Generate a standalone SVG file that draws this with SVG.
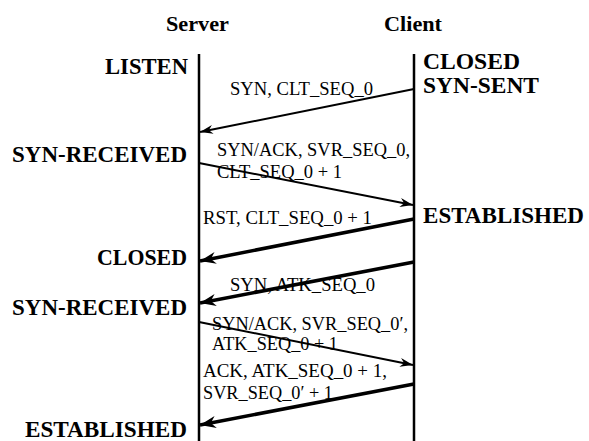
<svg xmlns="http://www.w3.org/2000/svg" width="589" height="441" viewBox="0 0 589 441">
<style>
.bg{fill:#fff}
.life{stroke:#000;stroke-width:2.5;fill:none}
text{font-family:'Liberation Serif','Times New Roman',Tinos,'DejaVu Serif',serif;fill:#000}
.title{font-weight:bold;font-size:22px}
.state{font-weight:bold;font-size:23px}
.lbl{font-size:18px}
.thin{stroke:#000;stroke-width:2;fill:none;marker-end:url(#ahThin)}
.thick{stroke:#000;stroke-width:3.5;fill:none;marker-end:url(#ahThick)}
</style>
<defs>
<marker id="ahThin" markerUnits="userSpaceOnUse" viewBox="-14 -6 16 12" refX="0" refY="0" markerWidth="16" markerHeight="12" orient="auto">
<path d="M0,0 L-13,-4.5 L-9,0 L-13,4.5 Z" fill="#000"/>
</marker>
<marker id="ahThick" markerUnits="userSpaceOnUse" viewBox="-18 -8 20 16" refX="0" refY="0" markerWidth="20" markerHeight="16" orient="auto">
<path d="M0,0 L-16,-6 L-11,0 L-16,6 Z" fill="#000"/>
</marker>
</defs>
<rect class="bg" x="0" y="0" width="589" height="441"/>

<g id="server">
<text class="title" x="166" y="31" textLength="63" lengthAdjust="spacingAndGlyphs">Server</text>
<line class="life" x1="199" y1="54" x2="199" y2="441"/>
</g>
<g id="client">
<text class="title" x="384" y="31" textLength="58" lengthAdjust="spacingAndGlyphs">Client</text>
<line class="life" x1="414" y1="54" x2="414" y2="441"/>
</g>

<g id="state-listen"><text class="state" x="105" y="74" textLength="83" lengthAdjust="spacingAndGlyphs">LISTEN</text></g>
<g id="state-client-closed"><text class="state" x="423" y="69" textLength="97" lengthAdjust="spacingAndGlyphs">CLOSED</text></g>
<g id="state-syn-sent"><text class="state" x="423" y="93" textLength="116" lengthAdjust="spacingAndGlyphs">SYN-SENT</text></g>
<g id="state-syn-received-1"><text class="state" x="12" y="162" textLength="175" lengthAdjust="spacingAndGlyphs">SYN-RECEIVED</text></g>
<g id="state-client-established"><text class="state" x="423" y="223" textLength="161" lengthAdjust="spacingAndGlyphs">ESTABLISHED</text></g>
<g id="state-server-closed"><text class="state" x="97" y="265" textLength="90" lengthAdjust="spacingAndGlyphs">CLOSED</text></g>
<g id="state-syn-received-2"><text class="state" x="12" y="315" textLength="175" lengthAdjust="spacingAndGlyphs">SYN-RECEIVED</text></g>
<g id="state-server-established"><text class="state" x="25" y="437" textLength="162" lengthAdjust="spacingAndGlyphs">ESTABLISHED</text></g>

<g id="labels">
<text class="lbl" x="230" y="95" textLength="143" lengthAdjust="spacingAndGlyphs">SYN, CLT_SEQ_0</text>
<text class="lbl" x="217" y="156" textLength="193" lengthAdjust="spacingAndGlyphs">SYN/ACK, SVR_SEQ_0,</text>
<text class="lbl" x="217" y="178" textLength="125" lengthAdjust="spacingAndGlyphs">CLT_SEQ_0 + 1</text>
<text class="lbl" x="203" y="224" textLength="169" lengthAdjust="spacingAndGlyphs">RST, CLT_SEQ_0 + 1</text>
<text class="lbl" x="230" y="291" textLength="145" lengthAdjust="spacingAndGlyphs">SYN, ATK_SEQ_0</text>
<text class="lbl" x="212" y="330" textLength="196" lengthAdjust="spacingAndGlyphs">SYN/ACK, SVR_SEQ_0′,</text>
<text class="lbl" x="212" y="350" textLength="126" lengthAdjust="spacingAndGlyphs">ATK_SEQ_0 + 1</text>
<text class="lbl" x="203" y="377" textLength="184" lengthAdjust="spacingAndGlyphs">ACK, ATK_SEQ_0 + 1,</text>
<text class="lbl" x="203" y="399" textLength="130" lengthAdjust="spacingAndGlyphs">SVR_SEQ_0′ + 1</text>
</g>

<g id="connectors">
<line class="thin" x1="414" y1="89" x2="200" y2="132"/>
<line class="thin" x1="199" y1="163" x2="413" y2="205"/>
<line class="thick" x1="414" y1="219" x2="200" y2="261"/>
<line class="thick" x1="414" y1="262" x2="200" y2="303"/>
<line class="thin" x1="199" y1="322" x2="413" y2="365"/>
<line class="thick" x1="414" y1="384" x2="200" y2="425"/>
</g>
</svg>
